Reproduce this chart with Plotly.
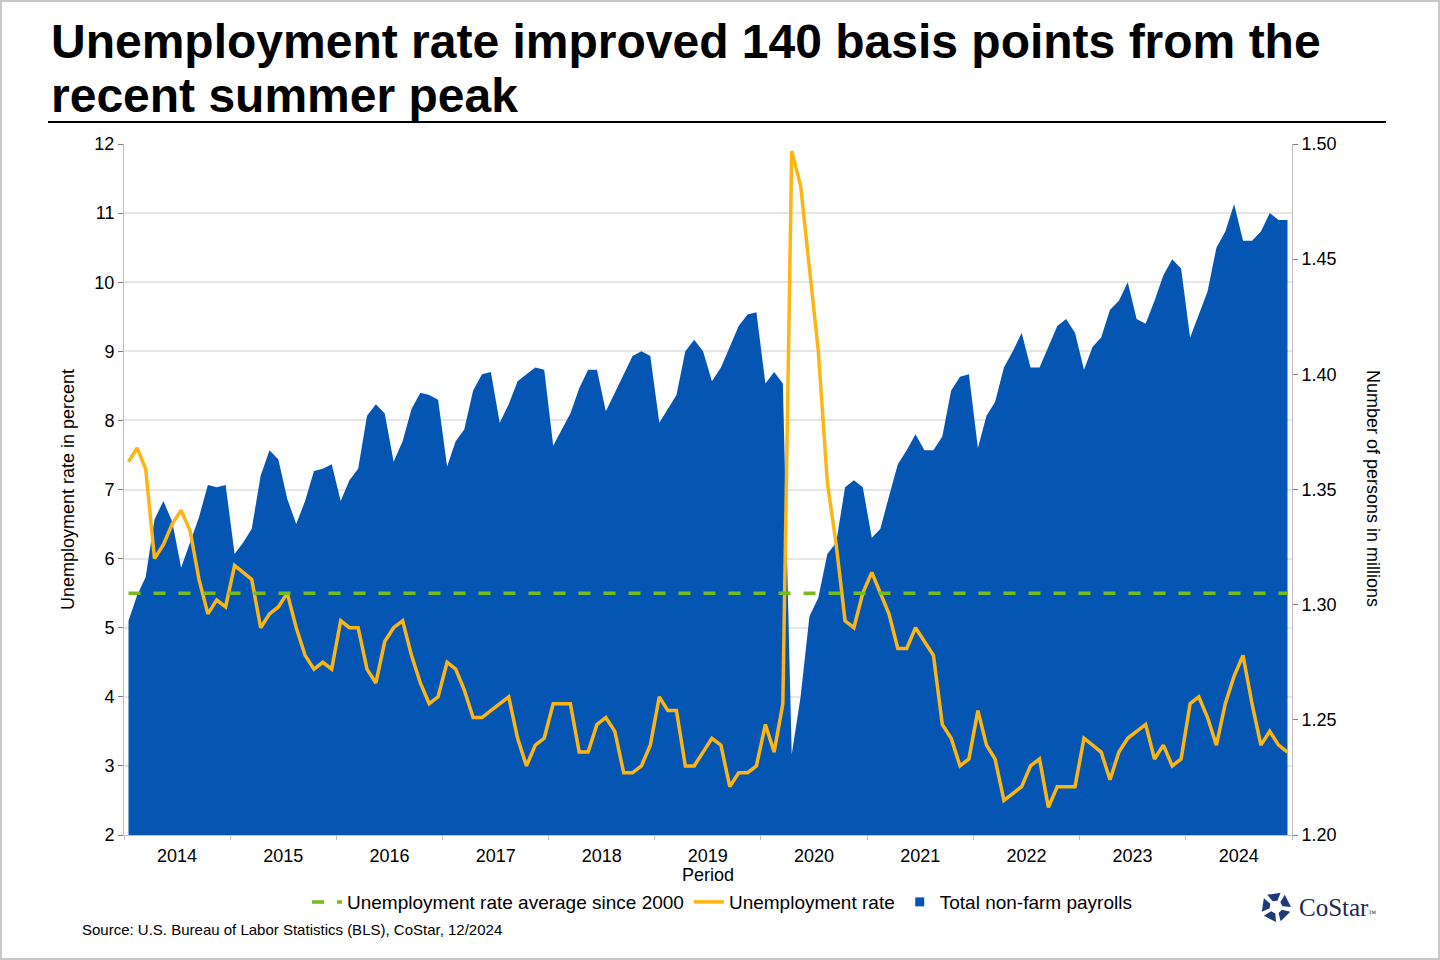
import math
import pandas as pd
import plotly.graph_objects as go


# Monthly periods, Jan 2014 - Dec 2024
months = pd.date_range("2014-01-01", "2024-12-01", freq="MS")

# Unemployment rate in percent
unemployment_rate = [
    7.4, 7.6, 7.3, 6.0, 6.2, 6.5, 6.7, 6.4, 5.7, 5.2, 5.4, 5.3,   # 2014
    5.9, 5.8, 5.7, 5.0, 5.2, 5.3, 5.5, 5.0, 4.6, 4.4, 4.5, 4.4,   # 2015
    5.1, 5.0, 5.0, 4.4, 4.2, 4.8, 5.0, 5.1, 4.6, 4.2, 3.9, 4.0,   # 2016
    4.5, 4.4, 4.1, 3.7, 3.7, 3.8, 3.9, 4.0, 3.4, 3.0, 3.3, 3.4,   # 2017
    3.9, 3.9, 3.9, 3.2, 3.2, 3.6, 3.7, 3.5, 2.9, 2.9, 3.0, 3.3,   # 2018
    4.0, 3.8, 3.8, 3.0, 3.0, 3.2, 3.4, 3.3, 2.7, 2.9, 2.9, 3.0,   # 2019
    3.6, 3.2, 3.9, 11.9, 11.4, 10.2, 9.0, 7.1, 6.2, 5.1, 5.0, 5.5,  # 2020
    5.8, 5.5, 5.2, 4.7, 4.7, 5.0, 4.8, 4.6, 3.6, 3.4, 3.0, 3.1,   # 2021
    3.8, 3.3, 3.1, 2.5, 2.6, 2.7, 3.0, 3.1, 2.4, 2.7, 2.7, 2.7,   # 2022
    3.4, 3.3, 3.2, 2.8, 3.2, 3.4, 3.5, 3.6, 3.1, 3.3, 3.0, 3.1,   # 2023
    3.9, 4.0, 3.7, 3.3, 3.9, 4.3, 4.6, 3.9, 3.3, 3.5, 3.3, 3.2,   # 2024
]

# Total non-farm payrolls in millions
payrolls = [
    1.293, 1.304, 1.312, 1.337, 1.345, 1.336, 1.316, 1.327, 1.338, 1.352, 1.351, 1.352,
    1.322, 1.327, 1.333, 1.356, 1.367, 1.363, 1.346, 1.335, 1.345, 1.358, 1.359, 1.361,
    1.345, 1.354, 1.359, 1.382, 1.387, 1.383, 1.362, 1.371, 1.385, 1.392, 1.391, 1.389,
    1.360, 1.371, 1.376, 1.393, 1.400, 1.401, 1.379, 1.387, 1.397, 1.400, 1.403, 1.402,
    1.369, 1.376, 1.383, 1.394, 1.402, 1.402, 1.384, 1.392, 1.400, 1.408, 1.410, 1.408,
    1.379, 1.385, 1.391, 1.410, 1.415, 1.410, 1.397, 1.403, 1.412, 1.421, 1.426, 1.427,
    1.396, 1.401, 1.396, 1.235, 1.260, 1.295, 1.303, 1.322, 1.327, 1.351, 1.354, 1.351,
    1.329, 1.333, 1.347, 1.361, 1.367, 1.374, 1.367, 1.367, 1.373, 1.393, 1.399, 1.400,
    1.368, 1.382, 1.388, 1.403, 1.410, 1.418, 1.403, 1.403, 1.412, 1.421, 1.424, 1.418,
    1.402, 1.412, 1.416, 1.428, 1.432, 1.440, 1.424, 1.422, 1.432, 1.443, 1.450, 1.446,
    1.416, 1.426, 1.436, 1.455, 1.462, 1.474, 1.458, 1.458, 1.462, 1.470, 1.467, 1.467,
]

# Average unemployment rate since 2000
avg_rate = 5.5

BLUE = "#0556B3"
YELLOW = "#FDB515"
GREEN = "#76BC21"
FONT = "Liberation Sans, Arial, sans-serif"

fig = go.Figure()

# Payrolls area on the primary (right-side) axis so the lines draw on top
fig.add_trace(go.Scatter(
    x=months, y=payrolls, yaxis="y",
    mode="lines", line=dict(width=0, color=BLUE),
    fill="tozeroy", fillcolor=BLUE,
    xperiod="M1", xperiodalignment="middle",
    name="Total non-farm payrolls", showlegend=False,
))

fig.add_trace(go.Scatter(
    x=months, y=unemployment_rate, yaxis="y2",
    mode="lines", line=dict(color=YELLOW, width=3.5),
    xperiod="M1", xperiodalignment="middle",
    name="Unemployment rate", legendrank=2,
))

fig.add_trace(go.Scatter(
    x=months, y=[avg_rate] * len(months), yaxis="y2",
    mode="lines", line=dict(color=GREEN, width=3.5, dash="12px,13px"),
    xperiod="M1", xperiodalignment="middle",
    name="Unemployment rate average since 2000", legendrank=1,
))

# legend entry with a square marker for the area
fig.add_trace(go.Scatter(
    x=[None], y=[None], mode="markers",
    marker=dict(symbol="square", size=9, color=BLUE),
    name="Total non-farm payrolls", legendrank=3,
))

fig.update_layout(
    width=1440, height=960,
    margin=dict(l=124, r=148, t=144, b=125),
    paper_bgcolor="white", plot_bgcolor="white",
    font=dict(family=FONT, size=18, color="black"),
    showlegend=True,
    legend=dict(
        orientation="h", x=0.512, xanchor="center", y=-0.097, yanchor="middle",
        font=dict(size=19), itemwidth=30, tracegroupgap=0,
        bgcolor="rgba(0,0,0,0)",
    ),
    xaxis=dict(
        type="date", range=["2014-01-01", "2025-01-01"],
        tick0="2014-01-01", dtick="M12", tickformat="%Y",
        ticklabelmode="period",
        ticks="outside", ticklen=4, tickcolor="#bfbfbf",
        showline=True, linecolor="#bfbfbf", linewidth=1,
        showgrid=False, zeroline=False,
        tickfont=dict(size=18),
    ),
    yaxis=dict(
        side="right", range=[1.2, 1.5], dtick=0.05, tickformat=".2f",
        ticks="outside", ticklen=5, tickcolor="#7f7f7f",
        showline=True, linecolor="#bfbfbf", linewidth=1,
        showgrid=False, zeroline=False,
        tickfont=dict(size=18),
    ),
    yaxis2=dict(
        overlaying="y", side="left", range=[2, 12], dtick=1,
        ticks="outside", ticklen=5, tickcolor="#7f7f7f",
        showline=True, linecolor="#bfbfbf", linewidth=1,
        showgrid=True, gridcolor="#e6e6e6", gridwidth=1.5, zeroline=False,
        tickfont=dict(size=18),
    ),
)


def px_to_paper(px, py):
    return (px - 124) / 1168, (835 - py) / 691


def label(px, py, text, size, xanchor="center", angle=0, **font):
    x, y = px_to_paper(px, py)
    return dict(
        x=x, y=y, xref="paper", yref="paper", xanchor=xanchor, yanchor="middle",
        text=text, textangle=angle, showarrow=False,
        font=dict(size=size, **font),
    )


annotations = [
    label(49, 42, "<b>Unemployment rate improved 140 basis points from the</b>", 48, "left",
          color="black"),
    label(49, 95, "<b>recent summer peak</b>", 48, "left", color="black"),
    label(68, 490, "Unemployment rate in percent", 18, angle=-90),
    label(1373, 488, "Number of persons in millions", 18, angle=90),
    label(708, 875, "Period", 18),
    label(80, 929, "Source: U.S. Bureau of Labor Statistics (BLS), CoStar, 12/2024", 15, "left"),
    label(1297, 908, "CoStar<span style='font-size:8px'>™</span>", 25, "left",
          family="Liberation Serif, Times New Roman, serif", color="#1b2a52"),
]
fig.update_layout(annotations=annotations)

shapes = []
# outer border
shapes.append(dict(
    type="rect", xref="paper", yref="paper",
    x0=-123 / 1168, x1=(1439 - 124) / 1168, y0=-124 / 691, y1=(691 + 143) / 691,
    line=dict(color="#c8c8c8", width=2), fillcolor="rgba(0,0,0,0)",
))
# rule under title
x0, y0 = px_to_paper(48, 122)
x1, _ = px_to_paper(1386, 122)
shapes.append(dict(
    type="line", xref="paper", yref="paper", x0=x0, x1=x1, y0=y0, y1=y0,
    line=dict(color="black", width=2),
))
# CoStar star mark: five pieces in a ring
cx, cy = 1276, 907
for k in range(5):
    th = 90 + 72 * k + 10
    pts = []
    for r, a in [(15, th - 28), (15, th + 26), (6.5, th + 20), (6.5, th - 22)]:
        px = cx + r * math.cos(math.radians(a))
        py = cy - r * math.sin(math.radians(a))
        pts.append(px_to_paper(px, py))
    path = "M " + " L ".join(f"{p[0]:.5f},{p[1]:.5f}" for p in pts) + " Z"
    shapes.append(dict(
        type="path", xref="paper", yref="paper", path=path,
        fillcolor="#1f3a7a", line=dict(width=0),
    ))
fig.update_layout(shapes=shapes)

# drop the default page margin so the figure sits at the window's corner
fig.write_html(
    "out.html",
    config={"displayModeBar": False},
    post_script="document.body.style.margin='0';",
)
